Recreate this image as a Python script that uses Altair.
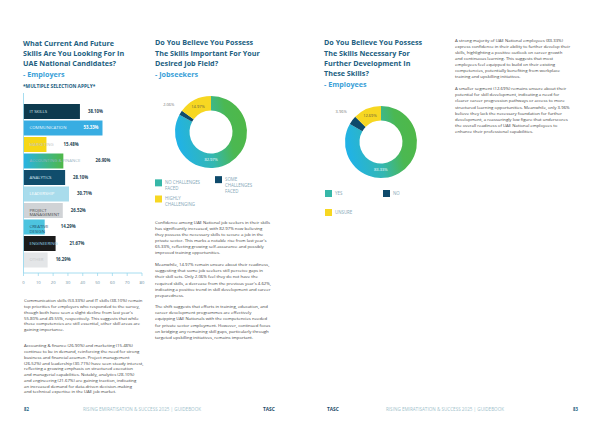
import altair as alt
import pandas as pd

# ---------------- data ----------------
skills = ["IT SKILLS", "COMMUNICATION", "MARKETING", "ACCOUNTING & FINANCE", "ANALYTICS",
          "LEADERSHIP", "PROJECT MANAGEMENT", "CREATIVE DESIGN", "ENGINEERING", "OTHER"]
skill_pct = [38.10, 53.33, 15.48, 26.90, 28.10, 30.71, 26.52, 14.29, 21.67, 16.29]
skill_ticks = [0, 10, 20, 30, 40, 50, 60, 70, 80]

js_answers = ["No challenges faced", "Some challenges faced", "Highly challenging"]
js_pct = [82.97, 2.06, 14.97]
emp_answers = ["Yes", "No", "Unsure"]
emp_pct = [83.33, 3.96, 12.69]

title_employers = ["What Current And Future", "Skills Are You Looking For In", "UAE National Candidates?"]
sub_employers = "- Employers"
note_employers = "*MULTIPLE SELECTION APPLY*"
title_js = ["Do You Believe You Possess", "The Skills Important For Your", "Desired Job Field?"]
sub_js = "- Jobseekers"
title_emp = ["Do You Believe You Possess", "The Skills Necessary For", "Further Development In", "These Skills?"]
sub_emp = "- Employees"

para_left_1 = [
    "Communication skills (53.33%) and IT skills (38.10%) remain",
    "top priorities for employers who responded to the survey,",
    "though both have seen a slight decline from last year's",
    "55.80% and 49.55%, respectively. This suggests that while",
    "these competencies are still essential, other skill areas are",
    "gaining importance.",
]
para_left_2 = [
    "Accounting & finance (26.90%) and marketing (15.48%)",
    "continue to be in demand, reinforcing the need for strong",
    "business and financial acumen. Project management",
    "(26.52%) and leadership (30.71%) have seen steady interest,",
    "reflecting a growing emphasis on structured execution",
    "and managerial capabilities. Notably, analytics (28.10%)",
    "and engineering (21.67%) are gaining traction, indicating",
    "an increased demand for data-driven decision-making",
    "and technical expertise in the UAE job market.",
]
para_mid_1 = [
    "Confidence among UAE National job seekers in their skills",
    "has significantly increased, with 82.97% now believing",
    "they possess the necessary skills to secure a job in the",
    "private sector. This marks a notable rise from last year's",
    "65.33%, reflecting growing self-assurance and possibly",
    "improved training opportunities.",
]
para_mid_2 = [
    "Meanwhile, 14.97% remain unsure about their readiness,",
    "suggesting that some job seekers still perceive gaps in",
    "their skill sets. Only 2.06% feel they do not have the",
    "required skills, a decrease from the previous year's 4.62%,",
    "indicating a positive trend in skill development and career",
    "preparedness.",
]
para_mid_3 = [
    "The shift suggests that efforts in training, education, and",
    "career development programmes are effectively",
    "equipping UAE Nationals with the competencies needed",
    "for private sector employment. However, continued focus",
    "on bridging any remaining skill gaps, particularly through",
    "targeted upskilling initiatives, remains important.",
]
para_right_1 = [
    "A strong majority of UAE National employees (83.33%)",
    "express confidence in their ability to further develop their",
    "skills, highlighting a positive outlook on career growth",
    "and continuous learning. This suggests that most",
    "employees feel equipped to build on their existing",
    "competencies, potentially benefiting from workplace",
    "training and upskilling initiatives.",
]
para_right_2 = [
    "A smaller segment (12.69%) remains unsure about their",
    "potential for skill development, indicating a need for",
    "clearer career progression pathways or access to more",
    "structured learning opportunities. Meanwhile, only 3.96%",
    "believe they lack the necessary foundation for further",
    "development, a reassuringly low figure that underscores",
    "the overall readiness of UAE National employees to",
    "enhance their professional capabilities.",
]
footer_text = "RISING EMIRATISATION & SUCCESS 2025 | GUIDEBOOK"
page_left = "82"
page_right = "83"
logo_text = "TASC"

# ---------------- styling ----------------
M = 8  # page margin


def px(v):
    return v - M


FONT = "Open Sans"
TITLE_C = "#22607f"
SUB_C = "#3a9fd8"
BODY_C = "#404040"
AXIS_C = "#8fd4ec"
BODY_FS = 4.3
ONE = pd.DataFrame({"z": [0]})


def text_block(lines, x, y, size, color, weight="normal", lh=None, align="left", baseline="alphabetic"):
    props = dict(text=lines, fontSize=size, color=color, fontWeight=weight, font=FONT,
                 align=align, baseline=baseline)
    if lh:
        props["lineHeight"] = lh
    return alt.Chart(ONE).mark_text(**props).encode(x=alt.value(px(x)), y=alt.value(px(y)))


# ---------------- bar chart ----------------
bar_colors = ["#0d3a4e", "#38ade2", "#f6d715", "#3bb3c9", "#104d6c",
              "#a9dcec", "#d0d3d6", "#4dc4df", "#1b1b1b", "#e4e6e8"]
label_colors = ["#d5e4ea", "#eaf7fd", "#c4c4c4", "#98b3c2", "#d6e8f0",
                "#ffffff", "#4d4d4d", "#1d4e68", "#8dd0ea", "#c5c8ca"]
wrap = {"PROJECT MANAGEMENT": "PROJECT\nMANAGEMENT", "CREATIVE DESIGN": "CREATIVE\nDESIGN"}

X0, X1 = px(23.5), px(142)
unit = (X1 - X0) / 80.0

bdf = pd.DataFrame({"skill": skills, "pct": skill_pct})
bdf["label"] = [wrap.get(s, s) for s in skills]
bdf["txt"] = [f"{v:.2f}%" for v in skill_pct]
bdf["lab_x"] = [max(v, (6 + max(len(p) for p in l.split("\n")) * 2.9) / unit)
                for v, l in zip(bdf["pct"], bdf["label"])]
top = max(skill_pct)
tdf = pd.DataFrame({"tick": skill_ticks})

xs = alt.Scale(domain=[0, 80], range=[X0, X1], nice=False)
ys = alt.Scale(domain=skills, range=[px(93), px(273)], paddingInner=0.09, paddingOuter=0.5, align=0.667)

grad_h = {"gradient": "linear", "x1": 0, "y1": 0, "x2": 1, "y2": 0,
          "stops": [{"offset": 0, "color": "#27b3e4"}, {"offset": 1, "color": "#4fb847"}]}

bbase = alt.Chart(bdf)
bars = bbase.mark_bar().encode(
    x=alt.X("pct:Q", scale=xs, axis=None),
    y=alt.Y("skill:N", scale=ys, sort=skills, axis=None),
    color=alt.condition("datum.skill == 'ACCOUNTING & FINANCE'", alt.value(grad_h),
                        alt.Color("skill:N", scale=alt.Scale(domain=skills, range=bar_colors), legend=None)),
)
cat_labels = bbase.mark_text(align="left", baseline="middle", dx=6, fontSize=4.3, font=FONT,
                             lineBreak="\n", lineHeight=4.6).encode(
    x=alt.datum(0),
    y=alt.Y("skill:N", scale=ys, sort=skills),
    text="label:N",
    fill=alt.Fill("skill:N", scale=alt.Scale(domain=skills, range=label_colors), legend=None),
)
val_out = bbase.transform_filter(f"datum.pct < {top}").mark_text(
    align="left", baseline="middle", dx=8, fontSize=4.3, fontWeight="bold", font=FONT, color="#1d3f52"
).encode(x="lab_x:Q", y=alt.Y("skill:N", scale=ys, sort=skills), text="txt:N")
val_in = bbase.transform_filter(f"datum.pct >= {top}").mark_text(
    align="right", baseline="middle", dx=-4, fontSize=4.3, fontWeight="bold", font=FONT, color="#ffffff"
).encode(x="pct:Q", y=alt.Y("skill:N", scale=ys, sort=skills), text="txt:N")

# axis drawn through the same x scale
x_line = alt.Chart(ONE).mark_rule(color=AXIS_C, strokeWidth=0.8).encode(
    x=alt.datum(0), x2=alt.datum(80), y=alt.value(px(273)))
y_line = alt.Chart(ONE).mark_rule(color=AXIS_C, strokeWidth=0.8).encode(
    x=alt.datum(0), y=alt.value(px(93)), y2=alt.value(px(273)))
x_ticks = alt.Chart(tdf).mark_rule(color=AXIS_C, strokeWidth=0.7).encode(
    x=alt.X("tick:Q", scale=xs), y=alt.value(px(273)), y2=alt.value(px(276)))
x_labels = alt.Chart(tdf).mark_text(fontSize=4.2, font=FONT, color="#6f8f9f", baseline="middle").encode(
    x=alt.X("tick:Q", scale=xs), y=alt.value(px(283)), text="tick:Q")

bar_group = alt.layer(bars, y_line, x_line, x_ticks, x_labels, cat_labels, val_out, val_in)

# ---------------- donuts ----------------
grad_d = {"gradient": "linear", "x1": 0, "y1": 0.6, "x2": 1, "y2": 0.4,
          "stops": [{"offset": 0, "color": "#1fb2ea"}, {"offset": 0.45, "color": "#34b7b2"},
                    {"offset": 0.75, "color": "#4bb852"}, {"offset": 1, "color": "#4fb848"}]}


def donut(cats, vals, cx, cy, legend):
    df = pd.DataFrame({"k": cats, "v": vals, "o": list(range(len(cats)))})
    df["t"] = [f"{v:.2f}%" for v in vals]
    base = alt.Chart(df).encode(
        theta=alt.Theta("v:Q", stack=True),
        order=alt.Order("o:Q"),
        x=alt.value(px(cx)), y=alt.value(px(cy)),
    )
    arc = base.mark_arc(innerRadius=21.5, outerRadius=36).encode(
        color=alt.condition(f"datum.k == '{cats[0]}'", alt.value(grad_d),
                            alt.Color("k:N", scale=alt.Scale(domain=cats, range=["#36b7a8", "#0e4a6b", "#f7d722"]),
                                      legend=legend))
    )
    t_big = base.mark_text(radius=28.5, thetaOffset=0.53, fontSize=4, font=FONT, baseline="middle",
                           color="#ffffff").encode(
        text=alt.condition(f"datum.k == '{cats[0]}'", alt.Text("t:N"), alt.value("")),
    )
    t_third = base.mark_text(radius=28.5, fontSize=4, font=FONT, baseline="middle", color="#5b5a40").encode(
        text=alt.condition(f"datum.k == '{cats[2]}'", alt.Text("t:N"), alt.value("")),
    )
    t_out = base.mark_text(radius=50, fontSize=4, font=FONT, baseline="middle", color="#777777").encode(
        text=alt.condition(f"datum.k == '{cats[1]}'", alt.Text("t:N"), alt.value("")),
    )
    return alt.layer(arc, t_big, t_third, t_out)


common_leg = dict(orient="none", columns=2, direction="vertical", symbolType="square", symbolSize=49,
                  symbolStrokeWidth=0, labelFontSize=4.4, labelFont=FONT, labelColor="#86a8b8", title=None,
                  padding=0, labelLimit=200, labelOffset=3)
leg1 = alt.Legend(legendX=px(155), legendY=px(176), columnPadding=14, rowPadding=1.5,
                  values=[js_answers[0], js_answers[2], js_answers[1]],
                  labelExpr="datum.label == 'No challenges faced' ? ['NO CHALLENGES','FACED'] : "
                            "datum.label == 'Some challenges faced' ? ['SOME','CHALLENGES','FACED'] : "
                            "['HIGHLY','CHALLENGING']", **common_leg)
leg2 = alt.Legend(legendX=px(325), legendY=px(190), columnPadding=30, rowPadding=12,
                  values=[emp_answers[0], emp_answers[2], emp_answers[1]],
                  labelExpr="upper(datum.label)", **common_leg)

donut_js = donut(js_answers, js_pct, 211, 132, leg1)
donut_emp = donut(emp_answers, emp_pct, 381, 142, leg2)

# ---------------- texts ----------------
TS = 7.2
FOOT_C = "#a2bfcc"
texts = [
    text_block(title_employers, 23, 45.7, TS, TITLE_C, "bold", 10.4),
    text_block(sub_employers, 23, 76.8, TS, SUB_C, "bold"),
    text_block(note_employers, 23, 87.7, 4.8, TITLE_C, "bold"),
    text_block(title_js, 155, 45.2, TS, TITLE_C, "bold", 10.5),
    text_block(sub_js, 155, 76.8, TS, SUB_C, "bold"),
    text_block(title_emp, 324, 45.2, TS, TITLE_C, "bold", 10.4),
    text_block(sub_emp, 324, 86.8, TS, SUB_C, "bold"),
    text_block(para_left_1, 24, 302.3, BODY_FS, BODY_C, lh=5.8),
    text_block(para_left_2, 24, 347.3, BODY_FS, BODY_C, lh=5.75),
    text_block(para_mid_1, 155, 223.6, BODY_FS, BODY_C, lh=6.1),
    text_block(para_mid_2, 155, 266.3, BODY_FS, BODY_C, lh=6.1),
    text_block(para_mid_3, 155, 308.3, BODY_FS, BODY_C, lh=6.1),
    text_block(para_right_1, 455, 42.3, BODY_FS, BODY_C, lh=6.0),
    text_block(para_right_2, 455, 90.3, BODY_FS, BODY_C, lh=6.1),
    text_block(page_left, 24, 410.6, 4.3, TITLE_C, "bold"),
    text_block(footer_text, 83, 410.8, 4.6, FOOT_C),
    text_block(logo_text, 263, 410.8, 4.8, "#1d4a66", "bold"),
    text_block(logo_text, 327, 410.8, 4.8, "#1d4a66", "bold"),
    text_block(footer_text, 386, 410.8, 4.6, FOOT_C),
    text_block(page_right, 578, 410.6, 4.3, TITLE_C, "bold", align="right"),
]

chart = alt.layer(bar_group, donut_js, donut_emp, *texts).resolve_scale(
    x="independent", y="independent", color="independent", fill="independent", theta="independent"
).properties(
    width=584, height=406, padding=0, autosize=alt.AutoSizeParams(type="none"), background="#ffffff"
).configure_view(stroke=None)

chart.save("out.html", embed_options={"renderer": "svg", "actions": False})
